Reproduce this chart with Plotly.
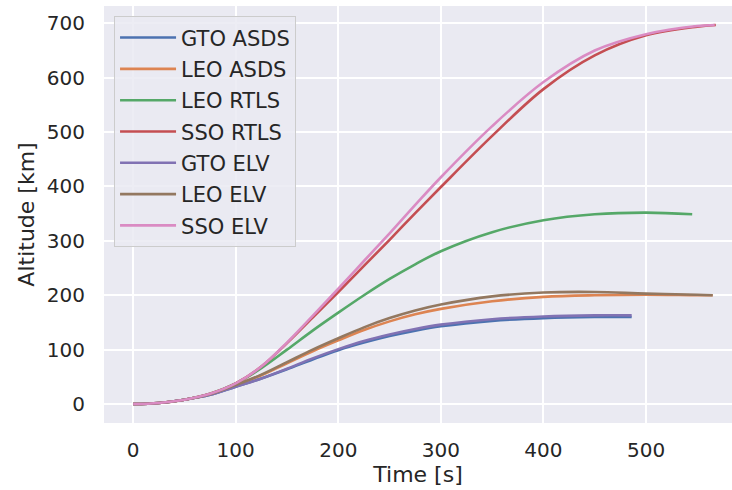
import plotly.graph_objects as go

# Time grid (s) shared by the series, plus each series' final sample
t_grid = [0, 25, 50, 75, 100, 125, 150, 175, 200, 225, 250, 275, 300, 350, 400, 450, 500, 550]

names = ["GTO ASDS", "LEO ASDS", "LEO RTLS", "SSO RTLS", "GTO ELV", "LEO ELV", "SSO ELV"]

gto_asds_t = t_grid[:16] + [486]
gto_asds_alt = [0, 2, 8, 17, 32, 47, 64, 82, 99, 113, 125, 135, 143, 153, 158, 160, 160]

leo_asds_t = t_grid + [565]
leo_asds_alt = [0, 2, 8, 18, 35, 53, 75, 97, 117, 136, 152, 165, 175, 189, 197, 200, 201, 200, 200]

leo_rtls_t = t_grid[:17] + [545]
leo_rtls_alt = [0, 2, 8, 19, 38, 66, 100, 135, 168, 200, 230, 257, 281, 316, 338, 349, 352, 349]

sso_rtls_t = t_grid + [568]
sso_rtls_alt = [0, 2, 8, 19, 38, 69, 112, 159, 206, 254, 302, 351, 399, 493, 579, 641, 678, 694, 697]

gto_elv_t = t_grid[:16] + [486]
gto_elv_alt = [0, 2, 8, 17, 32, 47, 65, 84, 101, 116, 128, 138, 146, 156, 161, 163, 163]

leo_elv_t = t_grid + [565]
leo_elv_alt = [0, 2, 8, 18, 35, 54, 77, 100, 121, 141, 158, 172, 183, 198, 205, 206, 203, 201, 200]

sso_elv_t = t_grid + [567]
sso_elv_alt = [0, 2, 8, 19, 38, 69, 113, 162, 212, 263, 314, 366, 417, 511, 592, 650, 680, 695, 697]

series_t = [gto_asds_t, leo_asds_t, leo_rtls_t, sso_rtls_t, gto_elv_t, leo_elv_t, sso_elv_t]
series_alt = [gto_asds_alt, leo_asds_alt, leo_rtls_alt, sso_rtls_alt, gto_elv_alt, leo_elv_alt, sso_elv_alt]

colors = ["#4C72B0", "#DD8452", "#55A868", "#C44E52", "#8172B3", "#937860", "#DA8BC3"]

x_ticks = [0, 100, 200, 300, 400, 500]
y_ticks = [0, 100, 200, 300, 400, 500, 600, 700]

fig = go.Figure()
for i, (n, tt, aa) in enumerate(zip(names, series_t, series_alt)):
    fig.add_trace(go.Scatter(
        x=tt, y=aa, mode="lines", name=n,
        line=dict(color=colors[i], width=2.6, shape="spline", smoothing=1.0),
        legendgroup=f"g{i}",
    ))

txt = "#262626"
fig.update_layout(
    width=732, height=490,
    margin=dict(l=104, r=0, t=6, b=67),
    paper_bgcolor="white",
    plot_bgcolor="#EAEAF2",
    font=dict(family="DejaVu Sans", color=txt, size=20),
    showlegend=True,
    legend=dict(
        x=0.016, y=0.975, xanchor="left", yanchor="top",
        bgcolor="rgba(234,234,242,0.85)",
        bordercolor="#CCCCCC", borderwidth=1,
        font=dict(size=21, color=txt, family="DejaVu Sans"),
        tracegroupgap=1,
        traceorder="grouped",
        itemwidth=56,
    ),
    xaxis=dict(
        range=[-28.4, 583.8],
        tickvals=x_ticks,
        showgrid=True, gridcolor="white", gridwidth=1.6,
        zeroline=False, showline=False,
        ticks="outside", ticklen=9, tickcolor="rgba(0,0,0,0)",
        tickfont=dict(size=20, color=txt),
        title=dict(text="Time [s]", font=dict(size=22, color=txt), standoff=5),
    ),
    yaxis=dict(
        range=[-34.85, 731.85],
        tickvals=y_ticks,
        showgrid=True, gridcolor="white", gridwidth=1.6,
        zeroline=False, showline=False,
        ticks="outside", ticklen=14, tickcolor="rgba(0,0,0,0)",
        tickfont=dict(size=20, color=txt),
        title=dict(text="Altitude [km]", font=dict(size=22, color=txt), standoff=6),
    ),
)

fig.write_html("out.html")
